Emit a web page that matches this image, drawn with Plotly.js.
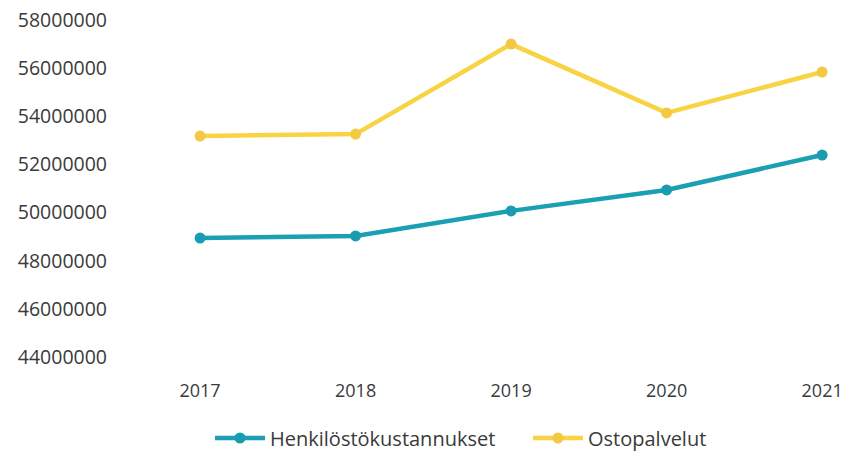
<!DOCTYPE html>
<html>
<head>
<meta charset="utf-8">
<script src="https://cdn.plot.ly/plotly-3.0.1.min.js"></script>
<style>html,body{margin:0;padding:0;background:#fff;}#chart{width:845px;height:451px;}</style>
</head>
<body>
<div id="chart"></div>
<script>
const years = ["2017", "2018", "2019", "2020", "2021"];
const henkilostokustannukset = [48940000, 49030000, 50070000, 50940000, 52390000];
const ostopalvelut = [53180000, 53260000, 57000000, 54140000, 55840000];
const yTicks = [44000000, 46000000, 48000000, 50000000, 52000000, 54000000, 56000000, 58000000];

const traces = [
  {
    x: years, y: henkilostokustannukset, name: "Henkilöstökustannukset",
    type: "scatter", mode: "lines+markers", legend: "legend",
    line: {color: "#1ba0b3", width: 4.5},
    marker: {color: "#1a9cb0", size: 11}
  },
  {
    x: years, y: ostopalvelut, name: "Ostopalvelut",
    type: "scatter", mode: "lines+markers", legend: "legend2",
    line: {color: "#f8d444", width: 4.5},
    marker: {color: "#f5c843", size: 11}
  }
];

const legendBase = {orientation: "h", xref: "container", yref: "container",
  xanchor: "left", y: 13 / 451, yanchor: "middle",
  font: {size: 20, color: "#3a3a3a"}, itemwidth: 50, bgcolor: "rgba(0,0,0,0)"};

const layout = {
  width: 845, height: 451,
  margin: {l: 108, r: 0, t: 20, b: 94, autoexpand: false},
  paper_bgcolor: "#fff", plot_bgcolor: "#fff",
  font: {family: "Open Sans, sans-serif", size: 20, color: "#3a3a3a"},
  showlegend: true,
  legend: Object.assign({}, legendBase, {x: 210 / 845}),
  legend2: Object.assign({}, legendBase, {x: 528 / 845}),
  xaxis: {
    type: "category", range: [-0.592, 4.147], automargin: false,
    showgrid: false, zeroline: false, showline: false, ticks: "",
    ticklabelstandoff: 21, tickfont: {size: 18}, fixedrange: true
  },
  yaxis: {
    range: [44000000, 58000000], tickvals: yTicks, automargin: false,
    ticktext: yTicks.map(v => String(v)),
    showgrid: false, zeroline: false, showline: false, ticks: "",
    tickfont: {size: 19.5}, fixedrange: true
  }
};

Plotly.newPlot("chart", traces, layout, {displayModeBar: false, staticPlot: true});
</script>
</body>
</html>
